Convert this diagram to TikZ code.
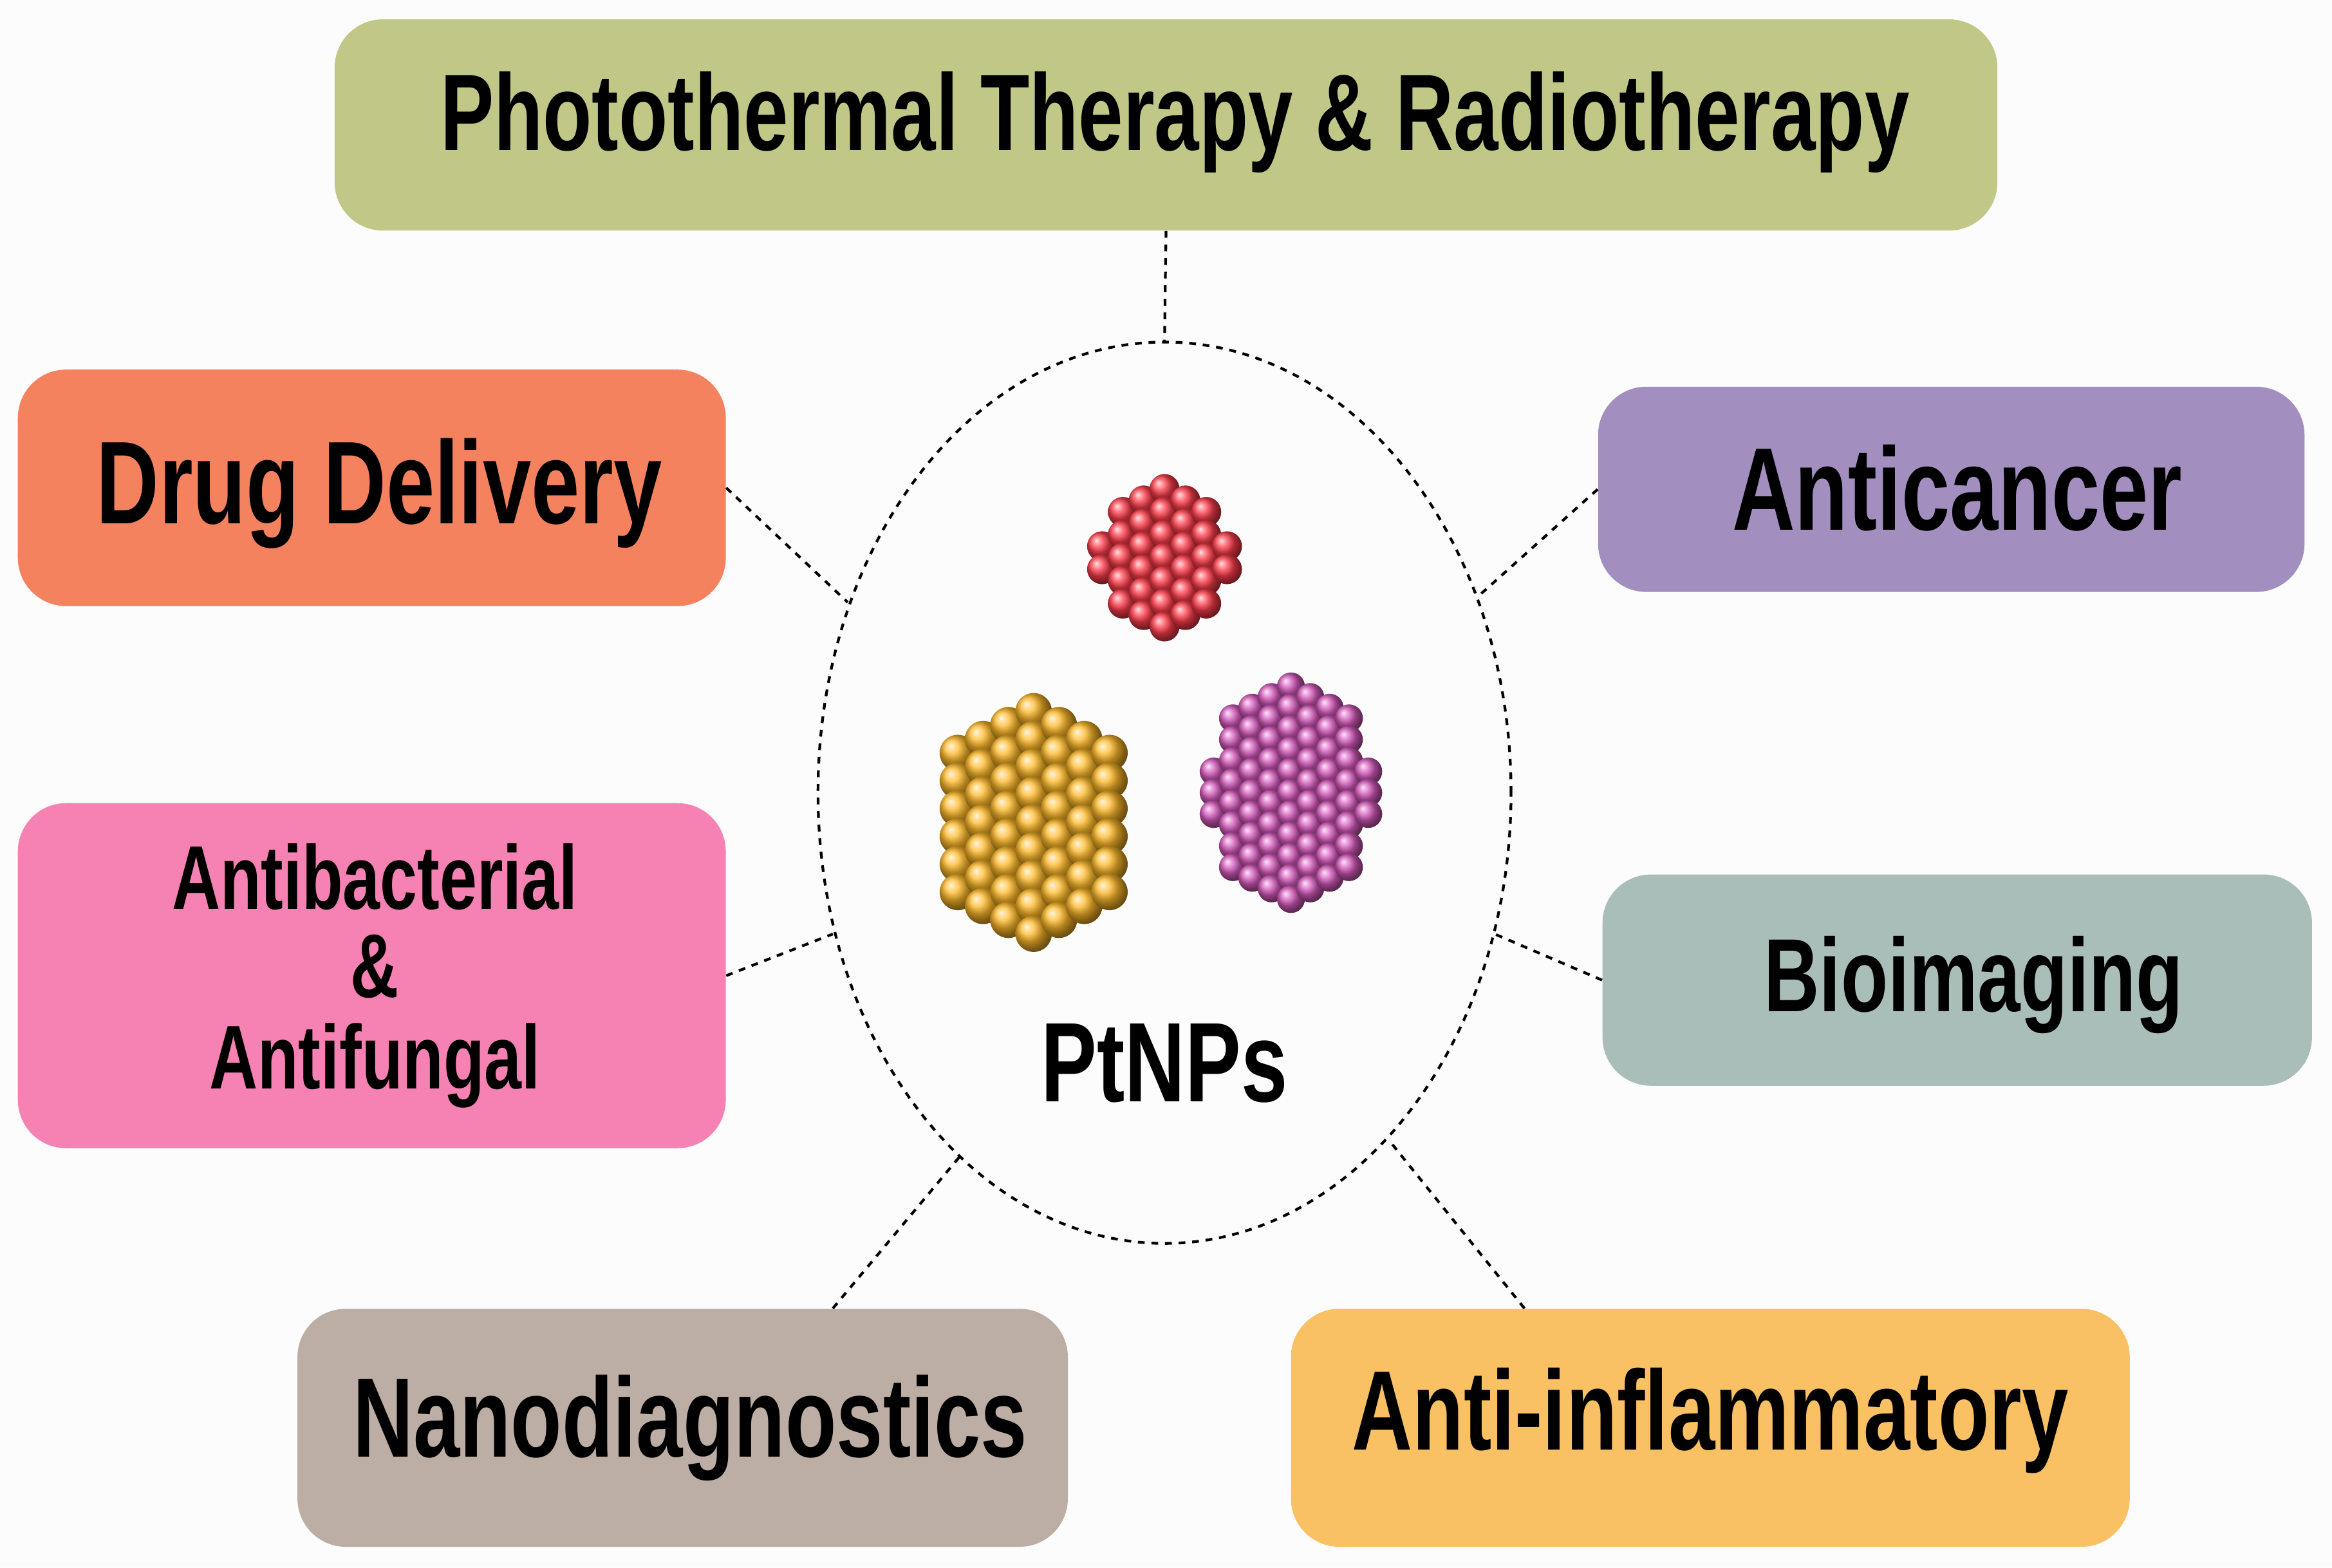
\documentclass[tikz,border=0pt]{standalone}
\usepackage{fontspec}
\setmainfont{Liberation Sans}
\usetikzlibrary{shapes.geometric}
\definecolor{cTop}{RGB}{192,199,135}
\definecolor{cDrug}{RGB}{245,130,95}
\definecolor{cAnti}{RGB}{162,143,192}
\definecolor{cBac}{RGB}{245,130,178}
\definecolor{cBio}{RGB}{170,190,185}
\definecolor{cNano}{RGB}{188,174,165}
\definecolor{cInf}{RGB}{250,192,100}
\definecolor{pRed}{RGB}{255,60,75}
\definecolor{pOr}{RGB}{255,185,40}
\definecolor{pPu}{RGB}{215,90,190}
\newcommand{\lbl}[2]{\fontsize{#1}{#1}\selectfont\bfseries\scalebox{0.74}[1]{#2}}
\begin{document}
\begin{tikzpicture}[x=0.023106cm,y=-0.023106cm,
  box/.style={rounded corners=0.75cm,draw=none},
  conn/.style={dashed,line width=1.2pt},
  lab/.style={text=black,align=center}]
\fill[white!98!gray] (0,0) rectangle (1568,1054);
\useasboundingbox (0,0) rectangle (1568,1054);
\node[box,fill=cTop] (top) at (784,84) [minimum width=1118*0.023106cm,minimum height=142*0.023106cm] {};
\node[box,fill=cDrug] (drug) at (250,328) [minimum width=476*0.023106cm,minimum height=159*0.023106cm] {};
\node[box,fill=cAnti] (anti) at (1312,329) [minimum width=475*0.023106cm,minimum height=138*0.023106cm] {};
\node[box,fill=cBac] (bac) at (250,656) [minimum width=476*0.023106cm,minimum height=232*0.023106cm] {};
\node[box,fill=cBio] (bio) at (1316,659) [minimum width=477*0.023106cm,minimum height=142*0.023106cm] {};
\node[box,fill=cNano] (nano) at (459,960) [minimum width=518*0.023106cm,minimum height=160*0.023106cm] {};
\node[box,fill=cInf] (inf) at (1150,960) [minimum width=564*0.023106cm,minimum height=160*0.023106cm] {};
\node[lab] at (790,82) {\lbl{48pt}{Photothermal Therapy \& Radiotherapy}};
\node[lab] at (255,332) {\lbl{52pt}{Drug Delivery}};
\node[lab] at (1316,328) {\lbl{52pt}{Anticancer}};
\node[lab] at (252,656) {\lbl{40pt}{Antibacterial}\\[10pt]\lbl{40pt}{\&}\\[10pt]\lbl{40pt}{Antifungal}};
\node[lab] at (1327,662) {\lbl{46pt}{Bioimaging}};
\node[lab] at (464,960) {\lbl{50pt}{Nanodiagnostics}};
\node[lab] at (1150,955) {\lbl{50pt}{Anti-inflammatory}};
\node[lab] (pt) at (783,715) {\lbl{50pt}{PtNPs}};
\node[ellipse,draw,dashed,line width=1.2pt,minimum width=466*0.023106cm,minimum height=606*0.023106cm,inner sep=0pt] (ell) at (783,533) {};
\coordinate (eD) at (570,405);
\coordinate (eA) at (995,400);
\coordinate (eB) at (560,628);
\coordinate (eI) at (1005,628);
\coordinate (eN) at (645,778);
\coordinate (eF) at (935,768);
\draw[conn] (top.south) -- (ell.north);
\draw[conn] (drug.east) -- (eD);
\draw[conn] (anti.west) -- (eA);
\draw[conn] (bac.east) -- (eB);
\draw[conn] (bio.west) -- (eI);
\draw[conn] (nano.north -| 560,0) -- (eN);
\draw[conn] (inf.north -| 1025,0) -- (eF);
% nanoparticle clusters
\foreach \cx/\cy/\rx/\ry/\r/\col in {783/375/44/56/14/pRed, 695/553/64/86/17/pOr, 868/533/55/74/13/pPu} {
  \foreach \i in {-6,...,6} { \foreach \j in {-7,...,7} {
    \pgfmathsetmacro{\px}{\cx+\i*\r*1.0}
    \pgfmathsetmacro{\py}{\cy+\j*\r*1.1+mod(abs(\i),2)*\r*0.55}
    \pgfmathsetmacro{\dd}{((\px-\cx)/\rx)^2+((\py-\cy)/\ry)^2}
    \ifdim\dd pt<1pt
      \shade[ball color=\col] (\px,\py) circle[radius=\r*0.023106cm*0.72];
    \fi
  }}
}
\end{tikzpicture}
\end{document}
